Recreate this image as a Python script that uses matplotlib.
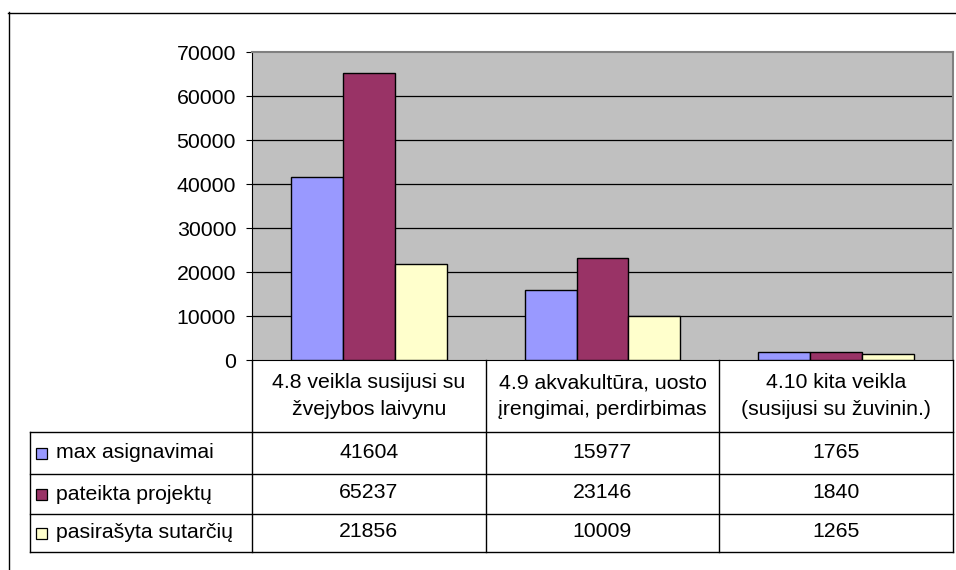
import matplotlib
matplotlib.use('Agg')
import matplotlib.pyplot as plt
from matplotlib.lines import Line2D
from matplotlib.patches import Rectangle
import numpy as np

plt.rcParams['font.family'] = ['Liberation Sans', 'DejaVu Sans']

# data
categories = ["4.8 veikla susijusi su\nžvejybos laivynu",
              "4.9 akvakultūra, uosto\nįrengimai, perdirbimas",
              "4.10 kita veikla\n(susijusi su žuvinin.)"]
series_names = ["max asignavimai", "pateikta projektų", "pasirašyta sutarčių"]
max_asignavimai = [41604, 15977, 1765]
pateikta_projektu = [65237, 23146, 1840]
pasirasyta_sutarciu = [21856, 10009, 1265]
series_values = [max_asignavimai, pateikta_projektu, pasirasyta_sutarciu]
colors = ["#9999FF", "#993366", "#FFFFCC"]
y_ticks = [0, 10000, 20000, 30000, 40000, 50000, 60000, 70000]

FS = 15.3

W, H = 956, 570
fig = plt.figure(figsize=(W / 100, H / 100), dpi=100)

def fx(px):
    return px / W

def fy(py):
    return 1 - py / H

# outer chart frame (cropped at right/bottom)
fig.add_artist(Line2D([fx(8), fx(956)], [fy(12.5), fy(12.5)], color='black', lw=1.0, transform=fig.transFigure))
fig.add_artist(Line2D([fx(8.5), fx(8.5)], [fy(12), fy(570)], color='black', lw=1.0, transform=fig.transFigure))

# plot area
L, R, T, B = 252, 953, 52, 360
ax = fig.add_axes([fx(L), fy(B), fx(R) - fx(L), fy(T) - fy(B)])
ax.set_facecolor('#C0C0C0')
x = np.arange(len(categories))
n = len(series_values)
bw = 1.0 / (n + 1.5)
for i, (vals, c) in enumerate(zip(series_values, colors)):
    ax.bar(x + (i - (n - 1) / 2) * bw, vals, width=bw, color=c,
           edgecolor='black', linewidth=1.0, zorder=3)
ax.set_xlim(-0.5, len(categories) - 0.5)
ax.set_ylim(0, 70000)
ax.set_yticks(y_ticks)
ax.set_yticklabels([str(v) for v in y_ticks], fontsize=FS)
ax.tick_params(axis='y', direction='out', length=4.5, width=0.8, pad=7, colors='black')
ax.set_xticks([])
for v in y_ticks[1:-1]:
    ax.axhline(v, color='black', lw=0.9, zorder=1)
ax.spines['left'].set_color('black')
ax.spines['bottom'].set_color('black')
ax.spines['top'].set_color('#808080')
ax.spines['right'].set_color('#808080')
ax.spines['top'].set_linewidth(1.5)
ax.spines['right'].set_linewidth(1.5)

# data table
TL, TB = 30, 552
tax = fig.add_axes([fx(TL), fy(TB), fx(R) - fx(TL), fy(B) - fy(TB)])
unit = (R - L) / len(categories)
xmin = -0.5 - (L - TL) / unit
tax.set_xlim(xmin, len(categories) - 0.5)
tax.set_ylim(TB - B, 0)
tax.axis('off')
row_edges = [0, 72, 114, 154, 191.5]
lc = dict(color='black', lw=1.0, clip_on=False)
# vertical lines
for xv in np.arange(len(categories) + 1) - 0.5:
    tax.plot([xv, xv], [0, row_edges[-1]], **lc)
tax.plot([xmin, xmin], [row_edges[1], row_edges[-1]], **lc)
for yv in row_edges[1:]:
    tax.plot([xmin, len(categories) - 0.5], [yv, yv], **lc)

# header
for j, cat in enumerate(categories):
    tax.text(j, (row_edges[0] + row_edges[1]) / 2, cat, ha='center', va='center',
             fontsize=FS, linespacing=1.5)

# rows
sw = 11 / unit
for i, (name, vals, c) in enumerate(zip(series_names, series_values, colors)):
    yc = (row_edges[i + 1] + row_edges[i + 2]) / 2
    tax.add_patch(Rectangle((xmin + 6 / unit, yc - 5), sw, 11, facecolor=c,
                            edgecolor='black', lw=0.9, clip_on=False))
    tax.text(xmin + 26 / unit, yc, name, ha='left', va='center', fontsize=FS)
    for j, v in enumerate(vals):
        tax.text(j, yc - 1, str(v), ha='center', va='center', fontsize=FS)

fig.savefig('out.png', dpi=100)
